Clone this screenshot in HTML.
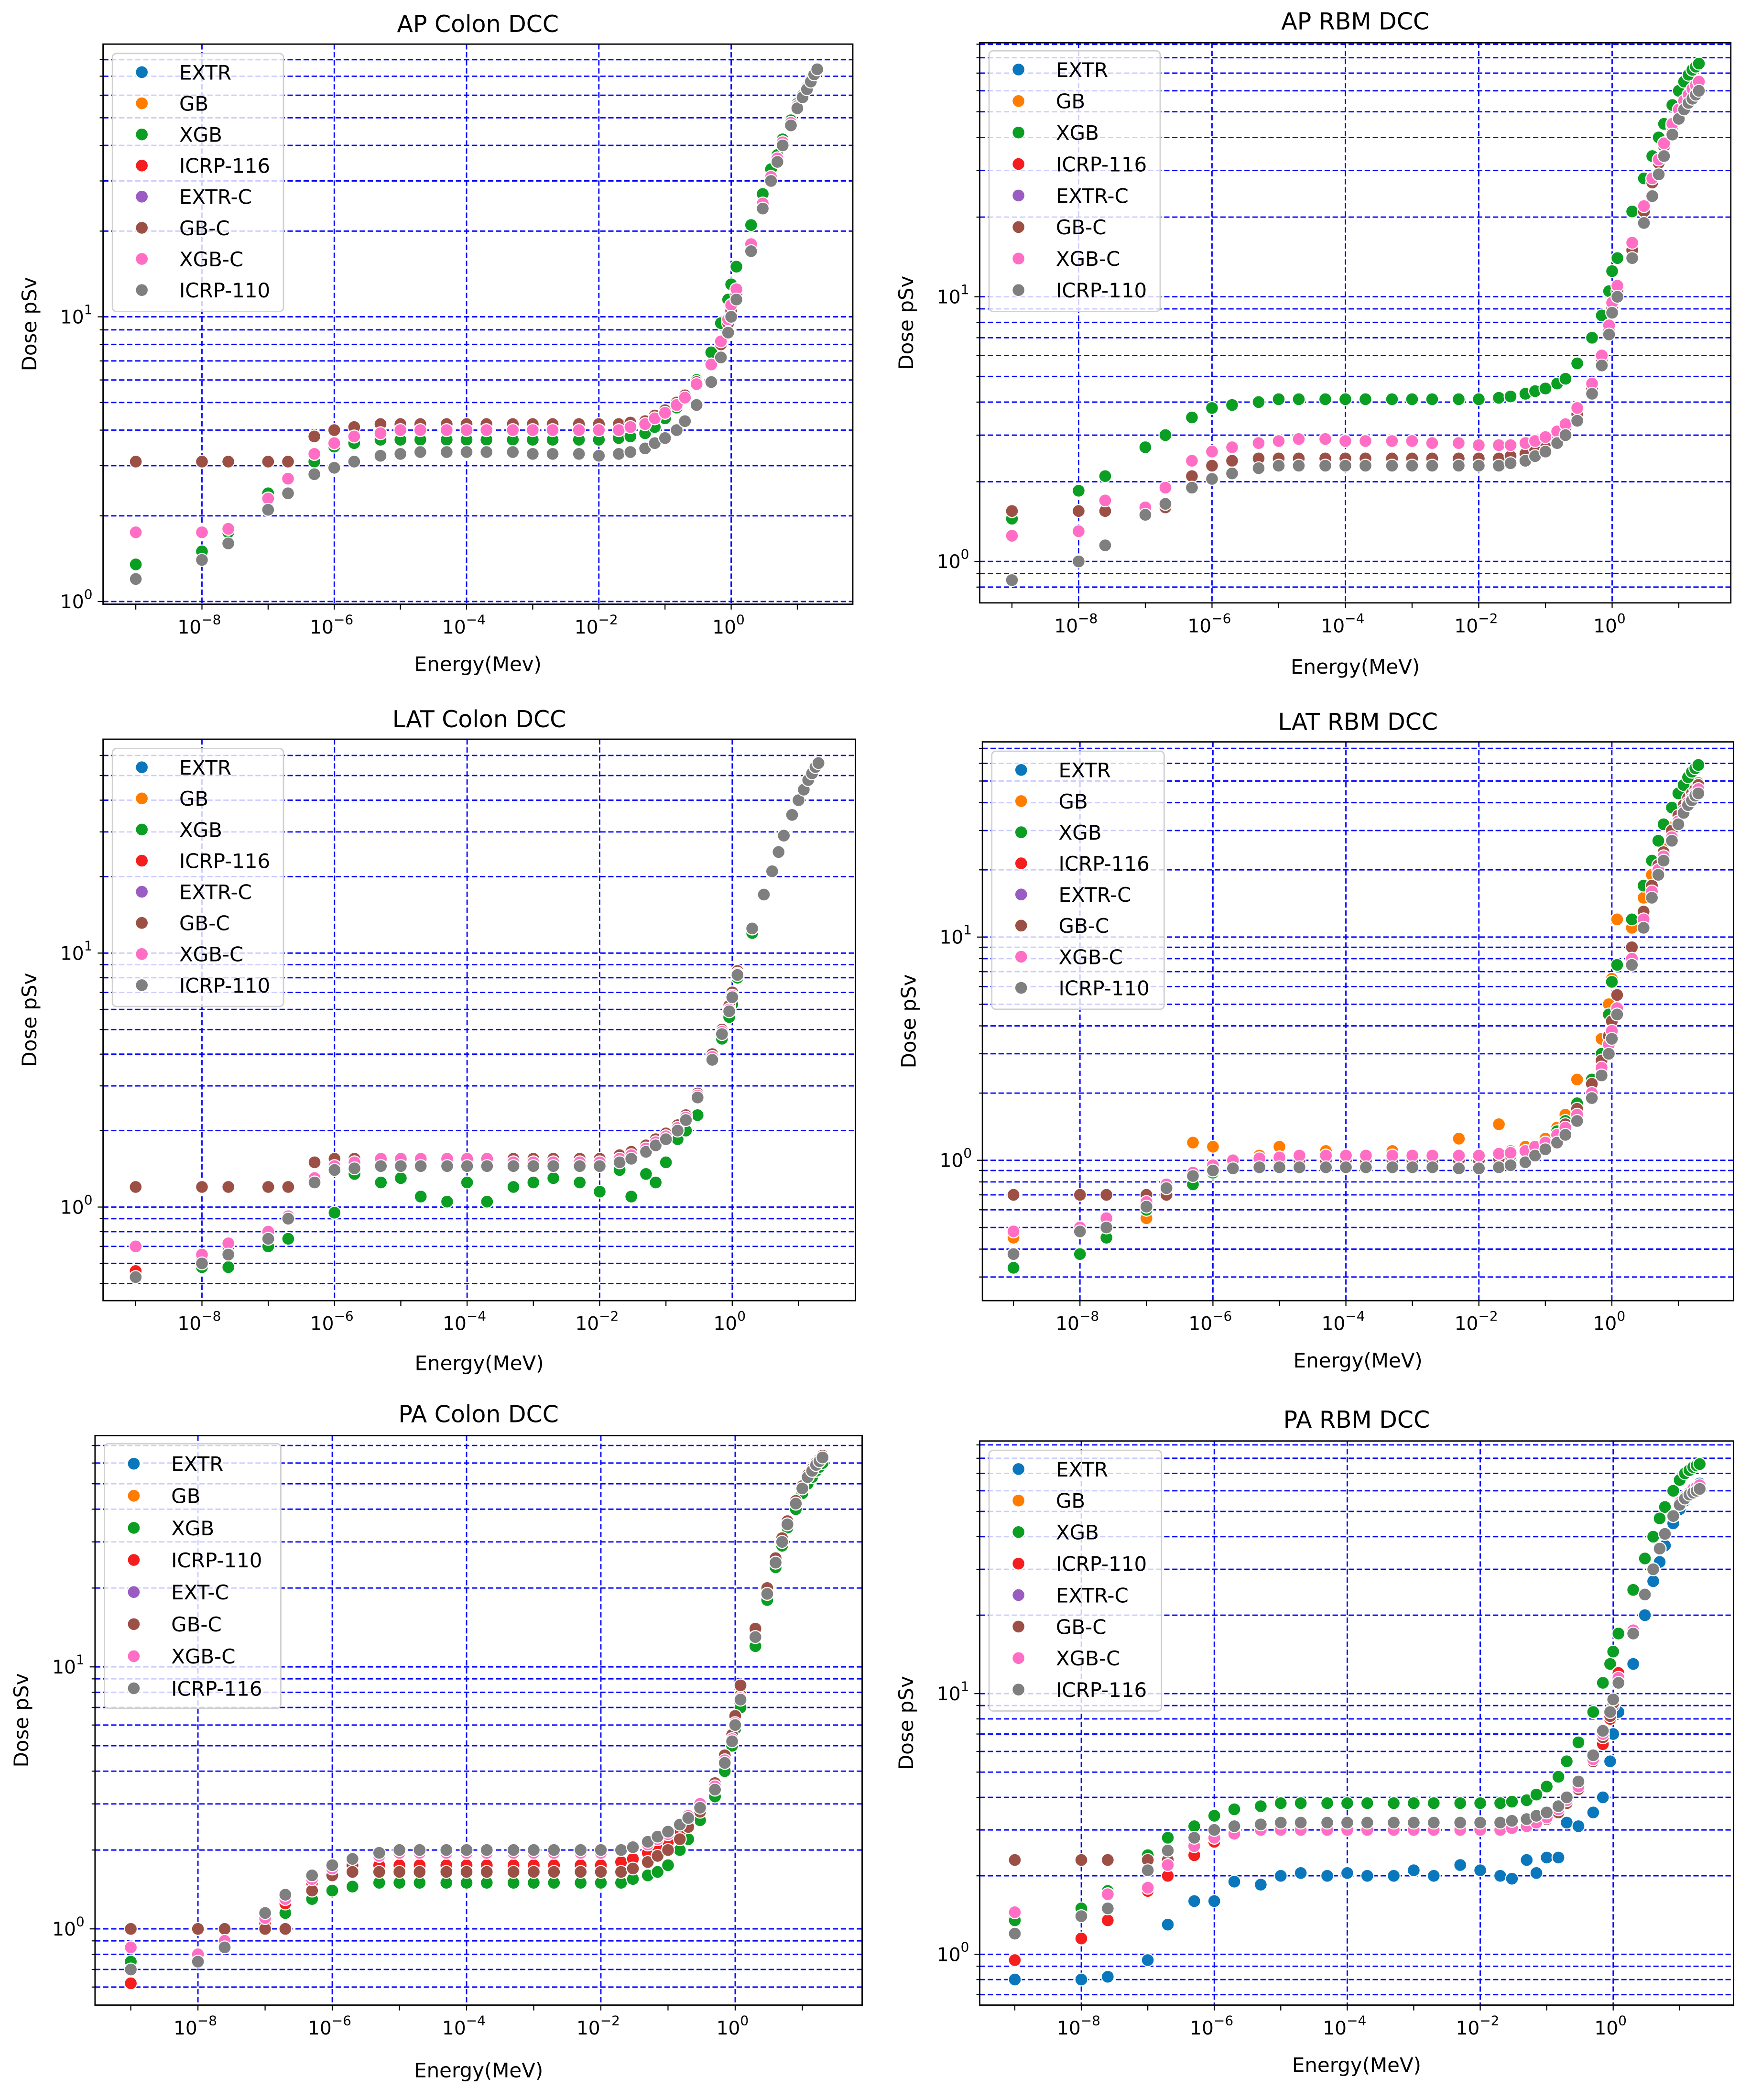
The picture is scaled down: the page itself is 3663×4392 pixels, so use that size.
<!DOCTYPE html>
<html><head><meta charset="utf-8"><style>
html,body{margin:0;padding:0;background:#fff}
svg{display:block}
text{font-family:"DejaVu Sans","Liberation Sans",sans-serif;fill:#000}
</style></head><body>
<svg id="fig" width="3663" height="4392" viewBox="0 0 1310 1571" xmlns="http://www.w3.org/2000/svg"></svg>
<script>
// Energy grid (MeV)
const E=[1e-9,1e-8,2.5e-8,1e-7,2e-7,5e-7,1e-6,2e-6,5e-6,1e-5,2e-5,5e-5,1e-4,2e-4,5e-4,1e-3,2e-3,5e-3,1e-2,2e-2,3e-2,5e-2,7e-2,0.1,0.15,0.2,0.3,0.5,0.7,0.9,1,1.2,2,3,4,5,6,8,10,12,14,16,18,20];
// Panel 1 AP Colon
const p1Gray=[1.2,1.4,1.6,2.1,2.4,2.8,2.95,3.1,3.25,3.3,3.35,3.35,3.35,3.35,3.35,3.3,3.3,3.3,3.25,3.3,3.35,3.45,3.6,3.75,4.0,4.3,4.9,5.9,7.2,8.8,10,11.5,17,24,30,35,40,47,54,59,63,67,71,74];
const p1Brown=[3.1,3.1,3.1,3.1,3.1,3.8,4.0,4.1,4.2,4.2,4.2,4.2,4.2,4.2,4.2,4.2,4.2,4.2,4.2,4.2,4.25,4.3,4.5,4.7,5.0,5.3,5.9,6.8,8.0,9.5,10.5,12,17,24,30,35,40,47,54,59,63,67,71,74];
const p1Pink=[1.75,1.75,1.8,2.3,2.7,3.3,3.6,3.8,3.9,4.0,4.0,4.0,4.0,4.0,4.0,4.0,4.0,4.0,4.0,4.0,4.1,4.2,4.4,4.6,4.9,5.2,5.8,6.8,8.2,9.8,11,12.5,18,25,31,36,41,48,55,60,64,68,71,74];
const p1Green=[1.35,1.5,1.75,2.4,2.7,3.1,3.5,3.6,3.7,3.7,3.7,3.7,3.7,3.7,3.7,3.7,3.7,3.7,3.7,3.75,3.8,3.9,4.1,4.4,4.8,5.2,6.0,7.5,9.5,11.5,13,15,21,27,33,37,42,49,56,60,64,68,71,74];
// Panel 2 AP RBM
const p2Green=[1.45,1.85,2.1,2.7,3.0,3.5,3.8,3.9,4.0,4.1,4.1,4.1,4.1,4.1,4.1,4.1,4.1,4.1,4.1,4.15,4.2,4.3,4.4,4.5,4.7,4.9,5.6,7.0,8.5,10.5,12.5,14,21,28,34,40,45,53,60,65,69,72,74,76];
const p2Pink=[1.25,1.3,1.7,1.6,1.9,2.4,2.6,2.7,2.8,2.85,2.9,2.9,2.85,2.85,2.85,2.85,2.8,2.8,2.75,2.75,2.75,2.8,2.85,2.95,3.1,3.3,3.8,4.7,6.0,7.8,9.5,11,16,22,28,33,38,45,51,55,58,61,63,65];
const p2Brown=[1.55,1.55,1.55,1.55,1.6,2.1,2.3,2.4,2.45,2.45,2.45,2.45,2.45,2.45,2.45,2.45,2.45,2.45,2.45,2.45,2.5,2.55,2.65,2.8,3.0,3.2,3.6,4.5,5.8,7.5,9,10.5,15,21,27,32,37,44,50,54,57,60,62,64];
const p2Gray=[0.85,1.0,1.15,1.5,1.65,1.9,2.05,2.15,2.25,2.3,2.3,2.3,2.3,2.3,2.3,2.3,2.3,2.3,2.3,2.3,2.35,2.4,2.5,2.6,2.8,3.0,3.4,4.3,5.5,7.2,8.7,10,14,19,24,29,34,41,47,51,54,56,58,60];
// Panel 3 LAT Colon
const p3Brown=[1.2,1.2,1.2,1.2,1.2,1.5,1.55,1.55,1.55,1.55,1.55,1.55,1.55,1.55,1.55,1.55,1.55,1.55,1.55,1.6,1.65,1.75,1.85,1.95,2.1,2.3,2.8,4.0,5.0,6.2,7.0,8.5,12.5,17,21,25,29,35,40,44,48,51,54,56];
const p3Pink=[0.7,0.65,0.72,0.8,0.92,1.3,1.45,1.5,1.55,1.55,1.55,1.55,1.55,1.55,1.5,1.5,1.5,1.5,1.5,1.55,1.6,1.7,1.8,1.9,2.05,2.25,2.75,3.9,4.9,6.0,6.8,8.3,12.5,17,21,25,29,35,40,44,48,51,54,56];
const p3Gray=[0.53,0.6,0.65,0.75,0.9,1.25,1.4,1.42,1.45,1.45,1.45,1.45,1.45,1.45,1.45,1.45,1.45,1.45,1.45,1.5,1.55,1.65,1.75,1.85,2.0,2.2,2.7,3.8,4.8,5.9,6.7,8.2,12.5,17,21,25,29,35,40,44,48,51,54,56];
const p3Green=[0.56,0.58,0.58,0.7,0.75,1.3,0.95,1.35,1.25,1.3,1.1,1.05,1.25,1.05,1.2,1.25,1.3,1.25,1.15,1.4,1.1,1.35,1.25,1.5,1.85,2.0,2.3,3.8,4.6,5.6,6.3,8,12,17,21,25,29,35,40,44,48,51,54,56];
const p3Red=[0.56,0.62,0.7,0.78,0.9,1.3,1.45,1.5,1.5,1.5,1.5,1.5,1.5,1.5,1.5,1.5,1.5,1.5,1.5,1.55,1.6,1.7,1.8,1.9,2.05,2.25,2.75,3.9,4.9,6.0,6.8,8.3,12.5,17,21,25,29,35,40,44,48,51,54,56];
// Panel 4 LAT RBM
const p4Pink=[0.48,0.5,0.55,0.65,0.78,0.88,0.95,1.0,1.02,1.03,1.05,1.05,1.05,1.05,1.05,1.05,1.05,1.05,1.05,1.07,1.08,1.1,1.15,1.2,1.3,1.4,1.6,2.0,2.6,3.3,3.8,4.8,8,12,16,20,23,28,33,37,40,42,44,46];
const p4Gray=[0.38,0.48,0.5,0.62,0.75,0.85,0.9,0.92,0.93,0.93,0.93,0.93,0.93,0.93,0.93,0.93,0.93,0.92,0.92,0.93,0.95,0.98,1.05,1.12,1.2,1.3,1.5,1.9,2.4,3.0,3.5,4.5,7.5,11,15,19,22,27,32,36,39,41,43,44];
const p4Green=[0.33,0.38,0.45,0.6,0.7,0.78,0.88,0.92,0.95,0.95,0.95,0.95,0.95,0.95,0.95,0.95,0.95,0.95,0.95,0.98,1.0,1.05,1.1,1.2,1.35,1.5,1.8,2.3,3.0,4.5,6.3,7.5,12,17,22,27,32,38,44,48,52,55,57,59];
const p4Brown=[0.7,0.7,0.7,0.7,0.7,0.85,0.95,1.0,1.0,1.0,1.0,1.0,1.0,1.0,1.0,1.0,1.0,1.0,1.0,1.02,1.05,1.08,1.12,1.2,1.3,1.45,1.7,2.2,2.8,3.6,4.2,5.5,9,13,17,21,24,30,35,39,42,44,46,48];
const p4Orange=[0.45,0.5,0.5,0.55,0.72,1.2,1.15,1.0,1.05,1.15,1.05,1.1,1.05,1.0,1.1,1.05,1.05,1.25,1.0,1.45,1.1,1.15,1.15,1.25,1.4,1.6,2.3,2.0,3.5,5.0,6.5,12,11,15,19,22,26,31,36,40,43,45,47,49];
// Panel 5 PA Colon
const p5Gray=[0.7,0.75,0.85,1.15,1.35,1.6,1.75,1.85,1.95,2.0,2.0,2.0,2.0,2.0,2.0,2.0,2.0,2.0,2.0,2.0,2.05,2.15,2.25,2.35,2.5,2.65,2.9,3.4,4.3,5.2,6.0,7.5,13,19,25,30,35,42,48,53,56,59,61,63];
const p5Brown=[1.0,1.0,1.0,1.0,1.0,1.4,1.6,1.65,1.65,1.65,1.65,1.65,1.65,1.65,1.65,1.65,1.65,1.65,1.65,1.65,1.7,1.8,1.9,2.0,2.2,2.45,2.8,3.6,4.6,5.5,6.5,8.5,14,20,26,31,36,43,49,54,57,60,62,64];
const p5Green=[0.75,0.8,0.9,1.05,1.15,1.3,1.4,1.45,1.5,1.5,1.5,1.5,1.5,1.5,1.5,1.5,1.5,1.5,1.5,1.5,1.55,1.6,1.65,1.75,2.0,2.2,2.6,3.2,4.0,5.0,5.8,7,12,18,24,29,34,40,46,50,53,56,58,60];
const p5Pink=[0.85,0.8,0.9,1.1,1.3,1.55,1.7,1.85,1.9,1.95,1.95,1.95,1.95,1.95,1.95,1.95,1.95,1.95,1.95,2.0,2.05,2.1,2.2,2.3,2.5,2.7,3.0,3.5,4.4,5.3,6.1,7.6,13,19,25,30,35,42,48,53,56,59,61,63];
const p5Red=[0.62,0.78,0.88,1.05,1.25,1.5,1.65,1.75,1.75,1.75,1.75,1.75,1.75,1.75,1.75,1.75,1.75,1.75,1.75,1.8,1.85,1.95,2.05,2.15,2.35,2.55,2.85,3.5,4.4,5.3,6.1,7.8,13,19,25,30,35,42,48,53,56,59,61,63];
// Panel 6 PA RBM
const p6Green=[1.35,1.5,1.75,2.4,2.8,3.1,3.4,3.6,3.7,3.8,3.8,3.8,3.8,3.8,3.8,3.8,3.8,3.8,3.8,3.8,3.85,3.9,4.1,4.4,4.8,5.5,6.5,8.5,11,13,14.5,17,25,33,40,47,52,60,66,70,72,74,75,76];
const p6Gray=[1.2,1.4,1.5,2.1,2.5,2.8,3.0,3.1,3.15,3.2,3.2,3.2,3.2,3.2,3.2,3.2,3.2,3.2,3.2,3.2,3.25,3.3,3.4,3.5,3.7,4.0,4.6,5.8,7.2,8.5,9.5,11,17,24,30,36,41,48,53,56,58,59,60,61];
const p6Brown=[2.3,2.3,2.3,2.3,2.3,2.7,2.9,3.0,3.0,3.0,3.0,3.0,3.0,3.0,3.0,3.0,3.0,3.0,3.0,3.0,3.05,3.1,3.2,3.3,3.5,3.8,4.3,5.5,6.8,8.2,9.2,11,17,24,30,36,41,48,53,56,58,59,60,61];
const p6Pink=[1.45,1.4,1.7,1.8,2.2,2.6,2.8,2.9,3.0,3.0,3.0,3.0,3.0,3.0,3.0,3.0,3.0,3.0,3.0,3.0,3.05,3.1,3.2,3.35,3.6,3.9,4.4,5.6,7,8.5,9.5,11.5,17.5,24,30,36,41,48,54,57,59,61,62,63];
const p6Red=[0.95,1.15,1.35,1.75,2.0,2.4,2.7,2.9,3.0,3.0,3.0,3.0,3.0,3.0,3.0,3.0,3.0,3.0,3.0,3.0,3.05,3.1,3.2,3.3,3.5,3.8,4.3,5.5,6.4,8,9,12,17,24,30,36,41,48,53,56,58,59,60,61];
const p6Blue=[0.8,0.8,0.82,0.95,1.3,1.6,1.6,1.9,1.85,2.0,2.05,2.0,2.05,2.0,2.0,2.1,2.0,2.2,2.1,2.0,1.95,2.3,2.05,2.35,2.35,3.2,3.1,3.5,4.0,5.5,7,8.5,13,20,27,32,37,45,51,55,58,60,62,64];

const C={blue:'#0a77bd',orange:'#ff7c00',green:'#0a9e22',red:'#f51e1e',purple:'#9a5cc2',brown:'#9c5045',pink:'#ff6ec4',gray:'#7f7f7f'};
const L1=['EXTR','GB','XGB','ICRP-116','EXTR-C','GB-C','XGB-C','ICRP-110'];
const L5=['EXTR','GB','XGB','ICRP-110','EXT-C','GB-C','XGB-C','ICRP-116'];
const L6=['EXTR','GB','XGB','ICRP-110','EXTR-C','GB-C','XGB-C','ICRP-116'];
const COLS=['blue','orange','green','red','purple','brown','pink','gray'];

const panels=[
 {name:'ap-colon',title:'AP Colon DCC',xl:'Energy(Mev)',bx:[77,638,33,452],xa:151,xd:49.5,ya:450,yd:213,tY:24,xlY:502,lg:[84,40,128,193,54],labels:L1,
  series:[p1Pink,p1Brown,p1Green,p1Pink,p1Pink,p1Brown,p1Pink,p1Gray]},
 {name:'ap-rbm',title:'AP RBM DCC',xl:'Energy(MeV)',bx:[733,1295,32,451],xa:807,xd:49.9,ya:420,yd:198,tY:22,xlY:504,lg:[740,38,128,195,52],labels:L1,
  series:[p2Brown,p2Brown,p2Green,p2Brown,p2Pink,p2Brown,p2Pink,p2Gray]},
 {name:'lat-colon',title:'LAT Colon DCC',xl:'Energy(MeV)',bx:[77,640,553,973],xa:151,xd:49.6,ya:903,yd:190,tY:544,xlY:1025,lg:[84,560,128,193,574],labels:L1,
  series:[p3Pink,p3Brown,p3Green,p3Red,p3Pink,p3Brown,p3Pink,p3Gray]},
 {name:'lat-rbm',title:'LAT RBM DCC',xl:'Energy(MeV)',bx:[735,1297,555,973],xa:808,xd:49.75,ya:868,yd:167,tY:546,xlY:1023,lg:[742,562,129,193,576],labels:L1,
  series:[p4Pink,p4Orange,p4Green,p4Pink,p4Pink,p4Brown,p4Pink,p4Gray]},
 {name:'pa-colon',title:'PA Colon DCC',xl:'Energy(MeV)',bx:[71,645,1074,1500],xa:148,xd:50.25,ya:1443,yd:196,tY:1064,xlY:1554,lg:[78,1080,132,198,1095],labels:L5,
  series:[p5Pink,p5Brown,p5Green,p5Red,p5Pink,p5Brown,p5Pink,p5Gray]},
 {name:'pa-rbm',title:'PA RBM DCC',xl:'Energy(MeV)',bx:[733,1297,1078,1500],xa:809,xd:49.75,ya:1462,yd:195,tY:1068,xlY:1550,lg:[740,1085,129,195,1099],labels:L6,
  series:[p6Blue,p6Brown,p6Green,p6Red,p6Pink,p6Brown,p6Pink,p6Gray]}
];

const NS='http://www.w3.org/2000/svg';
const svg=document.getElementById('fig');
function mk(tag,attrs,parent){const e=document.createElementNS(NS,tag);for(const k in attrs)e.setAttribute(k,attrs[k]);(parent||svg).appendChild(e);return e;}

panels.forEach(p=>{
  const g=mk('g',{});
  
  
  const [x0,x1,y0,y1]=p.bx;
  const xs=e=>p.xa+(Math.log10(e)+8)*p.xd;
  const ys=v=>p.ya-Math.log10(v)*p.yd;
  const grid=mk('g',{},g);
  
  
  for(let d=-1;d<=2;d++){for(let k=1;k<=9;k++){const v=k*Math.pow(10,d);const y=ys(v);if(y>y0+1&&y<y1-1){
    const ln=mk('line',{x1:x0,x2:x1,y1:y,y2:y,stroke:'#0000ff','stroke-width':1,'stroke-dasharray':'4,2'},grid);
    
    
    mk('line',{x1:x0-(k==1?4:2.5),x2:x0,y1:y,y2:y,stroke:'#000','stroke-width':0.8},g);
  }}}
  [-8,-6,-4,-2,0].forEach(d=>{const x=xs(Math.pow(10,d));
    const ln=mk('line',{x1:x,x2:x,y1:y0,y2:y1,stroke:'#0000ff','stroke-width':1,'stroke-dasharray':'4,2'},grid);
    
    
    mk('line',{x1:x,x2:x,y1:y1,y2:y1+4,stroke:'#000','stroke-width':0.8},g);
    const t=mk('text',{x:x-2,y:y1+22,'font-size':14,'text-anchor':'middle'},g);
    
    
    t.textContent='10';
    const s=mk('tspan',{dy:-7,'font-size':10},t);s.textContent=(d<0?'\u2212':'')+Math.abs(d);
  });
  for(let x=-9;x<=2;x++){const px=xs(Math.pow(10,x));if(px>x0&&px<x1&&x%2!==0)mk('line',{x1:px,x2:px,y1:y1,y2:y1+4,stroke:'#000','stroke-width':0.8},g);}
  [0,1].forEach(d=>{const y=ys(Math.pow(10,d));
    const t=mk('text',{x:x0-20,y:y+5,'font-size':14,'text-anchor':'middle'},g);
    
    
    t.textContent='10';
    const s=mk('tspan',{dy:-7,'font-size':10},t);s.textContent=String(d);
  });
  p.series.forEach((arr,si)=>{
    const sg=mk('g',{},g);
    
    
    arr.forEach((v,i)=>{const cx=xs(E[i]),cy=ys(v);if(cy<y0||cy>y1)return;
      const c=mk('circle',{cx:cx,cy:cy,r:4.8,fill:C[COLS[si]],stroke:'#fff','stroke-width':0.8},sg);
      
      
    });
  });
  const fr=mk('rect',{x:x0,y:y0,width:x1-x0,height:y1-y0,fill:'none',stroke:'#000','stroke-width':1},g);
  
  
  const [lx,ly,lw,lh,ey]=p.lg;
  const lgG=mk('g',{},g);
  
  
  mk('rect',{x:lx,y:ly,width:lw,height:lh,rx:3,fill:'#fff','fill-opacity':0.8,stroke:'#d0d0d0','stroke-width':1},lgG);
  const step=(lh-30)/7;
  p.labels.forEach((lab,i)=>{
    const y=ey+i*step;
    const c=mk('circle',{cx:lx+22,cy:y,r:4.8,fill:C[COLS[i]],stroke:'#fff','stroke-width':0.8},lgG);
    
    
    const t=mk('text',{x:lx+50,y:y+5.5,'font-size':15},lgG);
    
    
    t.textContent=lab;
  });
  const tt=mk('text',{x:(x0+x1)/2,y:p.tY,'font-size':17.5,'text-anchor':'middle'},g);
  
  
  tt.textContent=p.title;
  const xl=mk('text',{x:(x0+x1)/2,y:p.xlY,'font-size':15,'text-anchor':'middle'},g);
  
  
  xl.textContent=p.xl;
  const yc=(y0+y1)/2, yx=x0-50;
  const yl=mk('text',{x:yx,y:yc,'font-size':15,'text-anchor':'middle',transform:'rotate(-90 '+yx+' '+yc+')'},g);
  
  
  yl.textContent='Dose pSv';
});
</script>
</body></html>
